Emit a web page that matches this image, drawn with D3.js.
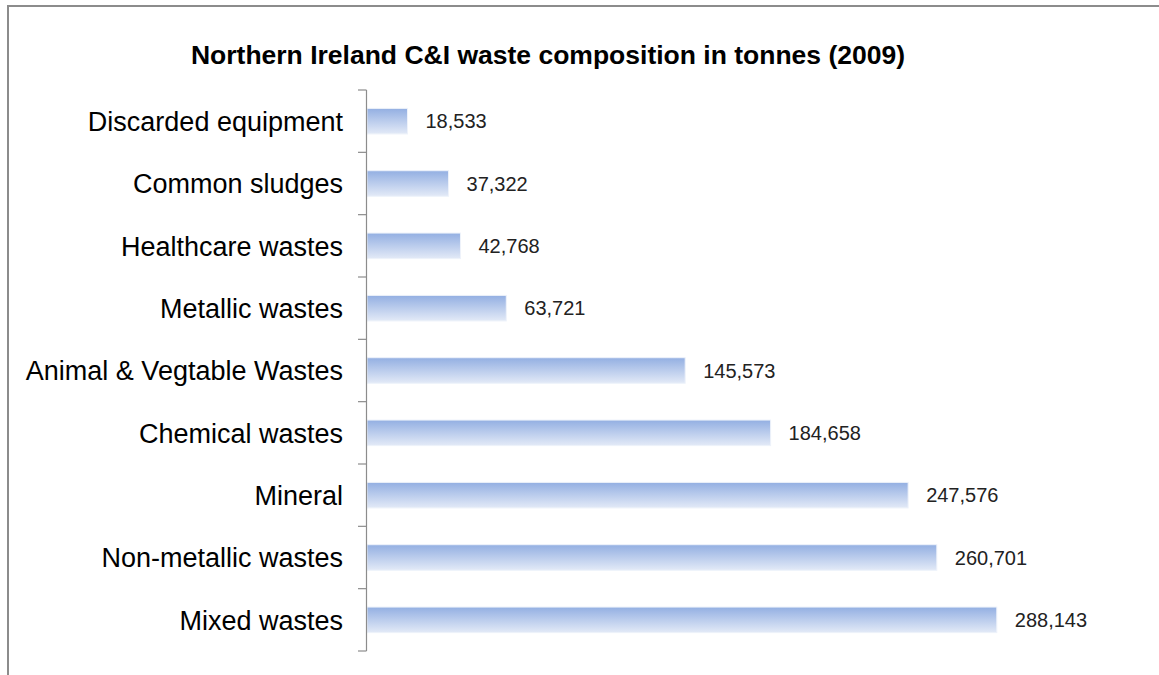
<!DOCTYPE html>
<html>
<head>
<meta charset="utf-8">
<script src="https://cdn.jsdelivr.net/npm/d3@7"></script>
<style>
  html, body { margin: 0; padding: 0; background: #fff; }
  svg { display: block; font-family: Arial, "Liberation Sans", sans-serif; }
</style>
</head>
<body>
<svg id="chart" width="1159" height="675"></svg>
<script>
// Northern Ireland C&I waste composition, tonnes (2009)
const categories = [
  "Discarded equipment",
  "Common sludges",
  "Healthcare wastes",
  "Metallic wastes",
  "Animal & Vegtable Wastes",
  "Chemical wastes",
  "Mineral",
  "Non-metallic wastes",
  "Mixed wastes"
];
const tonnes = [18533, 37322, 42768, 63721, 145573, 184658, 247576, 260701, 288143];
const title = "Northern Ireland C&I waste composition in tonnes (2009)";

const data = categories.map((c, i) => ({ category: c, value: tonnes[i] }));

const svg = d3.select("#chart");

// outer frame of the chart area
svg.append("rect")
  .attr("x", 8).attr("y", 6)
  .attr("width", 1200).attr("height", 720)
  .attr("fill", "none")
  .attr("stroke", "#8c8c8c")
  .attr("stroke-width", 2);

const defs = svg.append("defs");
const grad = defs.append("linearGradient")
  .attr("id", "barFill")
  .attr("x1", 0).attr("y1", 0).attr("x2", 0).attr("y2", 1);
grad.append("stop").attr("offset", "0%").attr("stop-color", "#93afe2");
grad.append("stop").attr("offset", "100%").attr("stop-color", "#e3eaf7");

const x = d3.scaleLinear().domain([0, 350000]).range([367, 1132]);
const y = d3.scaleBand().domain(categories).range([90, 651]).paddingInner(0.59).paddingOuter(0.295);

// title
svg.append("text")
  .attr("x", 548).attr("y", 64)
  .attr("text-anchor", "middle")
  .attr("font-weight", "bold")
  .attr("font-size", 26.5)
  .attr("fill", "#000")
  .text(title);

// bars
svg.append("g").selectAll("rect")
  .data(data)
  .join("rect")
  .attr("x", x(0))
  .attr("y", d => y(d.category))
  .attr("width", d => x(d.value) - x(0))
  .attr("height", y.bandwidth())
  .attr("fill", "url(#barFill)")
  .attr("stroke", "#eef2fa")
  .attr("stroke-width", 1);

// value labels
const fmt = d3.format(",");
svg.append("g").selectAll("text")
  .data(data)
  .join("text")
  .attr("x", d => x(d.value) + 18)
  .attr("y", d => y(d.category) + y.bandwidth() / 2)
  .attr("dy", "0.36em")
  .attr("font-size", 20)
  .attr("fill", "#222")
  .text(d => fmt(d.value));

// category axis with ticks at band boundaries
const axisG = svg.append("g");
axisG.append("line")
  .attr("x1", 366.5).attr("x2", 366.5)
  .attr("y1", 90).attr("y2", 651)
  .attr("stroke", "#8c8c8c").attr("stroke-width", 1.2);
const boundaries = d3.range(categories.length + 1).map(i => 90 + i * (561 / categories.length));
axisG.selectAll("line.tick")
  .data(boundaries)
  .join("line")
  .attr("class", "tick")
  .attr("x1", 358).attr("x2", 366.5)
  .attr("y1", d => d).attr("y2", d => d)
  .attr("stroke", "#8c8c8c").attr("stroke-width", 1.2);

axisG.selectAll("text")
  .data(categories)
  .join("text")
  .attr("x", 343)
  .attr("y", d => y(d) + y.bandwidth() / 2)
  .attr("dy", "0.36em")
  .attr("text-anchor", "end")
  .attr("font-size", 27)
  .attr("fill", "#000")
  .text(d => d);
</script>
</body>
</html>
